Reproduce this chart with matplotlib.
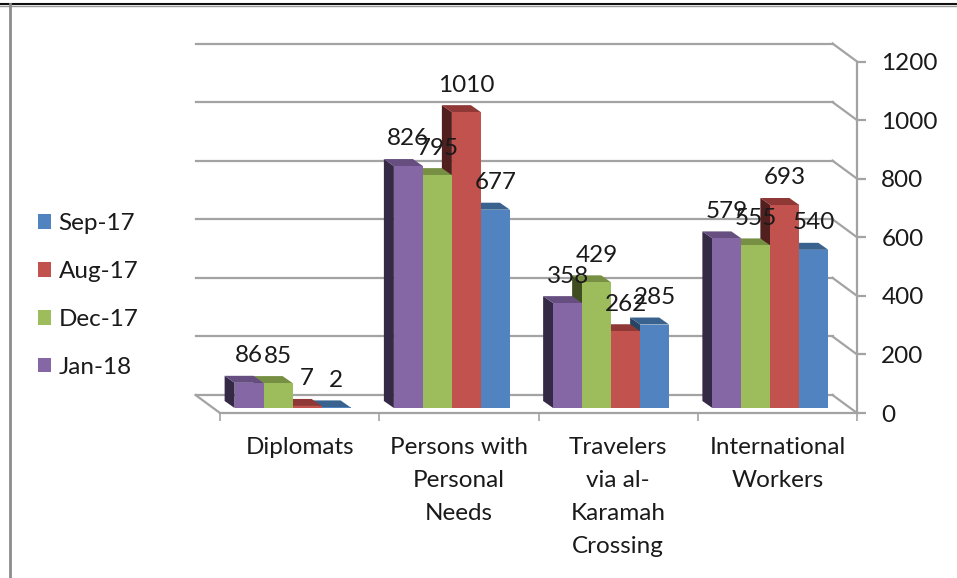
import matplotlib
matplotlib.use("Agg")
import matplotlib.pyplot as plt
from matplotlib.patches import Patch
from matplotlib.lines import Line2D

categories = ["Diplomats", "Persons with\nPersonal\nNeeds", "Travelers\nvia al-\nKaramah\nCrossing", "International\nWorkers"]
series = ["Jan-18", "Dec-17", "Aug-17", "Sep-17"]
jan18 = [86, 826, 358, 579]
dec17 = [85, 795, 429, 555]
aug17 = [7, 1010, 262, 693]
sep17 = [2, 677, 285, 540]
values = [jan18, dec17, aug17, sep17]
yticks = [0, 200, 400, 600, 800, 1000, 1200]

front = ["#8567A5", "#9DBD5C", "#C2524E", "#5183C0"]
top = ["#664F80", "#768F42", "#8F3836", "#3A628F"]
side = ["#352A45", "#3F4D20", "#501F1E", "#274563"]
grey = "#A3A3A3"
fs = 17.5

plt.rcParams['font.family'] = ['Lato', 'DejaVu Sans']
W, H = 957, 578
fig = plt.figure(figsize=(W / 100, H / 100), dpi=100)
ax = fig.add_axes([220 / W, 1 - 413 / H, 637 / W, 351.5 / H])
ax.set_xlim(0, 4)
ax.set_ylim(0, 1200)

# pixel sizes in data units, the 3D look is only offsets
px = 4 / 637
py = 1200 / 351.5
bar_w = 29 * px
wall_dx, wall_dy = -24.5 * px, 18 * py
shift_x, shift_y = -7 * px, 5 * py
depth_x, depth_y = -10 * px, 7 * py

# back wall and floor edges
for v in yticks:
    ax.plot([wall_dx, 4 + wall_dx], [v + wall_dy, v + wall_dy], color=grey, lw=1.6, clip_on=False, zorder=1)
    ax.plot([4 + wall_dx, 4], [v + wall_dy, v], color=grey, lw=1.6, clip_on=False, zorder=1)
ax.plot([wall_dx, 0], [wall_dy, 0], color=grey, lw=1.6, clip_on=False, zorder=1)

# right to left so the front of a bar hides the side of the next one
for s in range(3, -1, -1):
    for c in range(4):
        v = values[s][c]
        x0 = c + 0.5 + shift_x + (s - 2) * bar_w
        y0 = shift_y
        ax.fill([x0, x0 + depth_x, x0 + depth_x, x0], [y0, y0 + depth_y, y0 + v + depth_y, y0 + v],
                color=side[s], lw=0, zorder=2, clip_on=False)
        ax.fill([x0, x0 + depth_x, x0 + bar_w + depth_x, x0 + bar_w], [y0 + v, y0 + v + depth_y, y0 + v + depth_y, y0 + v],
                color=top[s], lw=0, zorder=2, clip_on=False)
        ax.bar(x0, v, bar_w, bottom=y0, align="edge", color=front[s], lw=0, zorder=2)

# labels go above everything, they overlap in the original too
for s in range(4):
    for c in range(4):
        x0 = c + 0.5 + shift_x + (s - 2) * bar_w
        ax.annotate(str(values[s][c]), (x0 + bar_w / 2, shift_y + values[s][c]), xytext=(0, 19.5),
                    textcoords="offset points", ha="center", va="center", fontsize=fs,
                    color="#1a1a1a", zorder=5, annotation_clip=False)

for name in ["top", "left"]:
    ax.spines[name].set_visible(False)
for name in ["right", "bottom"]:
    ax.spines[name].set_color(grey)
    ax.spines[name].set_linewidth(1.6)
ax.patch.set_alpha(0)

ax.yaxis.tick_right()
ax.set_yticks(yticks)
ax.tick_params(axis="y", length=6.5, width=1.6, color=grey, labelsize=fs, labelcolor="#1a1a1a", pad=11)
ax.set_xticks(range(5))
ax.set_xticklabels([])
ax.tick_params(axis="x", which="major", length=6, width=1.2, color=grey)
ax.set_xticks([0.5, 1.5, 2.5, 3.5], minor=True)
ax.set_xticklabels(categories, minor=True, fontsize=fs, color="#1a1a1a", linespacing=1.7)
ax.tick_params(axis="x", which="minor", length=0, pad=17.5)

handles = [Patch(facecolor=front[s], label=series[s]) for s in range(3, -1, -1)]
fig.legend(handles=handles, loc="center left", bbox_to_anchor=(38 / W, 1 - 295.5 / H), frameon=False,
           fontsize=fs, labelcolor="#1a1a1a", handlelength=0.55, handleheight=0.55, handletextpad=0.3,
           labelspacing=1.1, borderpad=0, borderaxespad=0)

# outer frame of the screenshot
fig.add_artist(Line2D([0, 1], [1 - 3.5 / H] * 2, color="#111111", lw=1.5))
fig.add_artist(Line2D([0, 1], [1 - 5.5 / H] * 2, color="#999999", lw=1))
fig.add_artist(Line2D([9.5 / W] * 2, [0, 1 - 4 / H], color="#8C8C8C", lw=2))

fig.savefig("out.png", dpi=100)
